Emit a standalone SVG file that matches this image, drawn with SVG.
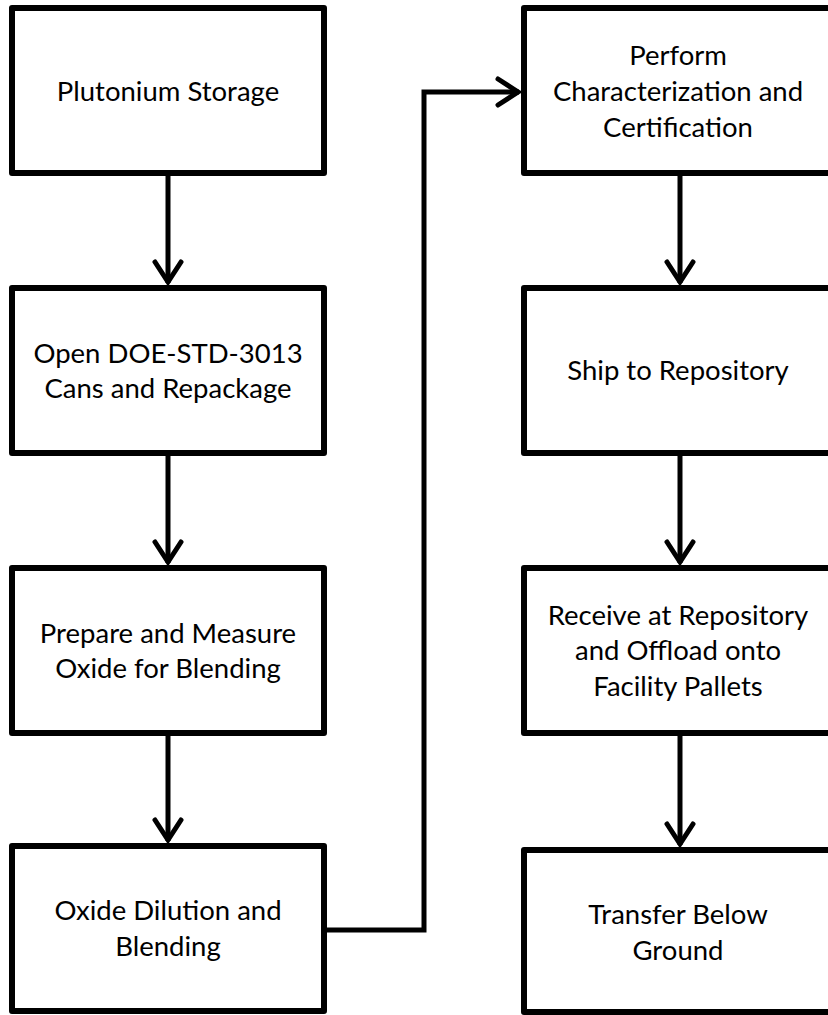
<svg xmlns="http://www.w3.org/2000/svg" width="828" height="1015" viewBox="0 0 828 1015">
  <style>
    .box { fill: #ffffff; stroke: #000000; stroke-width: 6; stroke-linejoin: round; }
    .lbl { font-family: Lato, "Liberation Sans", sans-serif; font-size: 27.5px; fill: #000000; text-anchor: middle; }
    .conn { fill: none; stroke: #000000; stroke-width: 5; stroke-linejoin: miter; }
  </style>
  <defs>
    <marker id="arrow" markerUnits="userSpaceOnUse" viewBox="-28 -18 32 36" markerWidth="32" markerHeight="36" refX="0" refY="0" orient="auto">
      <path d="M-21,-13 L-1,0 L-21,13" fill="none" stroke="#000000" stroke-width="5" stroke-linecap="round" stroke-linejoin="miter"/>
    </marker>
  </defs>
  <rect x="0" y="0" width="828" height="1015" fill="#ffffff"/>

  <g id="connectors">
    <line class="conn" x1="168" y1="176" x2="168" y2="283" marker-end="url(#arrow)"/>
    <line class="conn" x1="168" y1="456" x2="168" y2="563" marker-end="url(#arrow)"/>
    <line class="conn" x1="168" y1="736" x2="168" y2="841" marker-end="url(#arrow)"/>
    <polyline class="conn" points="327,930 424,930 424,92 519,92" marker-end="url(#arrow)"/>
    <line class="conn" x1="680" y1="176" x2="680" y2="283" marker-end="url(#arrow)"/>
    <line class="conn" x1="680" y1="456" x2="680" y2="563" marker-end="url(#arrow)"/>
    <line class="conn" x1="680" y1="736" x2="680" y2="845" marker-end="url(#arrow)"/>
  </g>

  <g id="plutonium-storage">
    <rect class="box" x="12" y="8" width="312" height="165"/>
    <text class="lbl" x="168" y="101">Plutonium Storage</text>
  </g>
  <g id="open-cans">
    <rect class="box" x="12" y="288" width="312" height="165"/>
    <text class="lbl" x="168" y="363">Open DOE-STD-3013</text>
    <text class="lbl" x="168" y="398">Cans and Repackage</text>
  </g>
  <g id="prepare-measure">
    <rect class="box" x="12" y="568" width="312" height="165"/>
    <text class="lbl" x="168" y="643">Prepare and Measure</text>
    <text class="lbl" x="168" y="678">Oxide for Blending</text>
  </g>
  <g id="oxide-dilution">
    <rect class="box" x="12" y="846" width="312" height="165"/>
    <text class="lbl" x="168" y="920">Oxide Dilution and</text>
    <text class="lbl" x="168" y="956">Blending</text>
  </g>

  <g id="characterization">
    <rect class="box" x="524" y="8" width="330" height="165"/>
    <text class="lbl" x="678" y="65">Perform</text>
    <text class="lbl" x="678" y="101">Characterization and</text>
    <text class="lbl" x="678" y="137">Certification</text>
  </g>
  <g id="ship">
    <rect class="box" x="524" y="288" width="330" height="165"/>
    <text class="lbl" x="678" y="380">Ship to Repository</text>
  </g>
  <g id="receive">
    <rect class="box" x="524" y="568" width="330" height="165"/>
    <text class="lbl" x="678" y="625">Receive at Repository</text>
    <text class="lbl" x="678" y="660">and Offload onto</text>
    <text class="lbl" x="678" y="696">Facility Pallets</text>
  </g>
  <g id="transfer">
    <rect class="box" x="524" y="850" width="330" height="162"/>
    <text class="lbl" x="678" y="924">Transfer Below</text>
    <text class="lbl" x="678" y="960">Ground</text>
  </g>
</svg>
